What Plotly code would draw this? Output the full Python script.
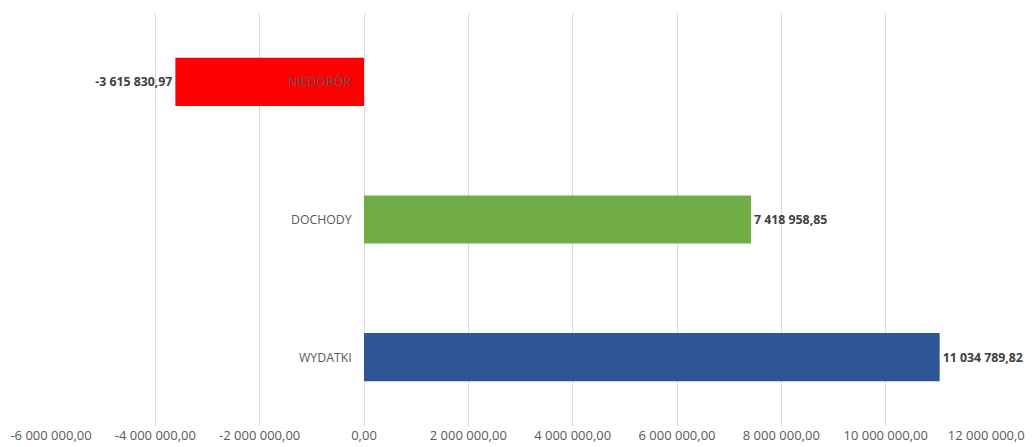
import plotly.graph_objects as go

categories = ["NIEDOBÓR", "DOCHODY", "WYDATKI"]
values = [-3615830.97, 7418958.85, 11034789.82]
colors = ["#FF0000", "#70AD47", "#2F5597"]
tick_vals = [-6e6, -4e6, -2e6, 0, 2e6, 4e6, 6e6, 8e6, 10e6, 12e6]


def pl_fmt(v):
    s = f"{abs(v):,.2f}".replace(",", " ").replace(".", ",")
    return ("-" if v < 0 else "") + s


tick_text = [pl_fmt(v) for v in tick_vals]
value_text = [pl_fmt(v) for v in values]

FONT = "Open Sans, sans-serif"

fig = go.Figure()
fig.add_trace(go.Bar(
    x=values, y=categories, orientation="h",
    marker=dict(color=colors, line=dict(width=0)),
    width=0.35,
    text=value_text, texttemplate="%{text}", textposition="outside",
    textfont=dict(family=FONT, size=12.3, color="#404040", weight="bold"),
    cliponaxis=False, constraintext="none",
    hoverinfo="skip",
))

for cat in categories:
    fig.add_annotation(
        x=0, y=cat, xref="x", yref="y", text=cat, showarrow=False,
        xanchor="right", yanchor="middle", xshift=-10,
        font=dict(family=FONT, size=12.3, color="#595959"),
    )

# page body has an 8px margin, so the figure is sized to end at the window edge
fig.update_layout(
    width=1025, height=439,
    margin=dict(l=43, r=43, t=5, b=21),
    paper_bgcolor="white", plot_bgcolor="white",
    showlegend=False,
    font=dict(family=FONT, color="#595959", size=11),
)
fig.update_xaxes(
    range=[-6e6, 12e6], tickvals=tick_vals, ticktext=tick_text,
    showgrid=True, gridcolor="#D9D9D9", gridwidth=1,
    zeroline=False, showline=False, ticks="", automargin=False,
    tickfont=dict(family=FONT, size=13, color="#595959"),
)
fig.update_yaxes(
    categoryorder="array", categoryarray=categories, autorange="reversed",
    showticklabels=False, showgrid=False, zeroline=False, showline=False,
    automargin=False,
)

fig.write_html("out.html")
